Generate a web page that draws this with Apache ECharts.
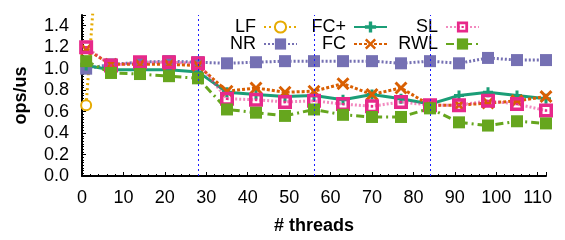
<!DOCTYPE html>
<html>
<head>
<meta charset="utf-8">
<script src="https://cdn.jsdelivr.net/npm/echarts@6/dist/echarts.min.js"></script>
<style>
  html, body { margin: 0; padding: 0; background: #fff; }
  #chart { width: 565px; height: 240px; }
</style>
</head>
<body>
<div id="chart"></div>
<script>
// thread counts on the x axis
const threads = [1, 7, 14, 21, 28, 35, 42, 49, 56, 63, 70, 77, 84, 91, 98, 105, 112]
// ops/us per variant (LF leaves the plot after the first point)
const lf = [0.66, 3.9, null, null, null, null, null, null, null, null, null, null, null, null, null, null, null]
const nr = [1.00, 1.04, 1.06, 1.07, 1.06, 1.05, 1.06, 1.07, 1.07, 1.07, 1.07, 1.05, 1.07, 1.05, 1.10, 1.08, 1.08]
const fcPlus = [1.03, 0.99, 0.99, 0.99, 0.97, 0.78, 0.76, 0.74, 0.75, 0.71, 0.76, 0.72, 0.67, 0.75, 0.78, 0.75, 0.72]
const fc = [1.18, 1.04, 1.04, 1.04, 1.03, 0.79, 0.82, 0.78, 0.79, 0.86, 0.76, 0.82, 0.66, 0.66, 0.68, 0.70, 0.74]
const sl = [1.20, 1.03, 1.06, 1.06, 1.05, 0.72, 0.71, 0.69, 0.70, 0.67, 0.65, 0.69, 0.66, 0.66, 0.70, 0.67, 0.61]
const rwl = [1.07, 0.96, 0.95, 0.93, 0.91, 0.62, 0.59, 0.56, 0.62, 0.57, 0.55, 0.55, 0.63, 0.50, 0.47, 0.51, 0.49]
// socket boundaries
const dividers = [28, 56, 84]

const FONT = "'Liberation Sans', Arial, sans-serif"
const pairs = (ys) => threads.map((t, i) => [t, ys[i]])

const PLUS = 'path://M3.5,0H6.5V3.5H10V6.5H6.5V10H3.5V6.5H0V3.5H3.5Z'
const CROSS = 'path://M0,1.6L1.6,0L5,3.4L8.4,0L10,1.6L6.6,5L10,8.4L8.4,10L5,6.6L1.6,10L0,8.4L3.4,5Z'
const BOXDOT = 'path://M0,0H14V14H0Z M3.5,3.5V10.5H10.5V3.5Z M5.8,5.8H8.2V8.2H5.8Z'

const chart = echarts.init(document.getElementById('chart'))

const mkLegend = (name, right, top) => ({
  data: [name],
  right: right,
  top: top,
  align: 'right',
  itemWidth: 33,
  itemHeight: 14,
  selectedMode: false,
  textStyle: { fontFamily: FONT, fontSize: 18, color: '#000', padding: [0, 3, 0, 0] }
})

chart.setOption({
  animation: false,
  grid: { left: 82, right: 19, top: 15, bottom: 61 },
  legend: [
    mkLegend('LF', 262, 13),
    mkLegend('FC+', 172, 13),
    mkLegend('SL', 80, 13),
    mkLegend('NR', 262, 30),
    mkLegend('FC', 172, 30),
    mkLegend('RWL', 80, 30)
  ],
  xAxis: {
    type: 'value',
    min: 0,
    max: 112,
    interval: 10,
    name: '# threads',
    nameLocation: 'middle',
    nameGap: 41,
    nameTextStyle: { fontFamily: FONT, fontSize: 18, fontWeight: 'bold', color: '#000' },
    axisLine: { lineStyle: { color: '#000', width: 2 } },
    axisTick: { inside: true, length: 4, lineStyle: { color: '#000' } },
    minorTick: { show: true, splitNumber: 5, length: 2, lineStyle: { color: '#000' } },
    axisLabel: { fontFamily: FONT, fontSize: 18, color: '#000', margin: 13, showMaxLabel: false },
    splitLine: { show: false }
  },
  yAxis: {
    type: 'value',
    min: 0,
    max: 1.5,
    interval: 0.2,
    name: 'ops/us',
    nameLocation: 'middle',
    nameGap: 52,
    nameTextStyle: { fontFamily: FONT, fontSize: 18, fontWeight: 'bold', color: '#000' },
    axisLine: { show: true, lineStyle: { color: '#000', width: 2 } },
    axisTick: { show: true, inside: true, length: 4, lineStyle: { color: '#000' } },
    minorTick: { show: true, splitNumber: 8, length: 2, lineStyle: { color: '#000' } },
    axisLabel: {
      fontFamily: FONT, fontSize: 18, color: '#000', margin: 13, showMaxLabel: false,
      formatter: v => v.toFixed(1)
    },
    splitLine: { show: false }
  },
  series: [
    {
      name: 'LF', type: 'line', data: pairs(lf), clip: true,
      symbol: 'emptyCircle', symbolSize: 10, color: '#e6ab02',
      itemStyle: { borderWidth: 3 },
      lineStyle: { width: 3, type: [2, 3] }
    },
    {
      name: 'NR', type: 'line', data: pairs(nr), clip: true,
      symbol: 'rect', symbolSize: 12, color: '#7570b3',
      lineStyle: { width: 3, type: [2, 2] },
      markLine: {
        silent: true,
        symbol: 'none',
        label: { show: false },
        lineStyle: { color: '#1a1aff', type: [2, 3], width: 1 },
        data: dividers.map(d => ({ xAxis: d }))
      }
    },
    {
      name: 'FC+', type: 'line', data: pairs(fcPlus), clip: true,
      symbol: PLUS, symbolSize: 10, color: '#1b9e77',
      lineStyle: { width: 3, type: 'solid' }
    },
    {
      name: 'FC', type: 'line', data: pairs(fc), clip: true,
      symbol: CROSS, symbolSize: 13, color: '#d95f02',
      lineStyle: { width: 3, type: [3, 2] }
    },
    {
      name: 'SL', type: 'line', data: pairs(sl), clip: true,
      symbol: BOXDOT, symbolSize: 14, color: '#e7298a',
      lineStyle: { width: 3, type: [2, 2], opacity: 0.55 }
    },
    {
      name: 'RWL', type: 'line', data: pairs(rwl), clip: true,
      symbol: 'rect', symbolSize: 12, color: '#66a61e',
      lineStyle: { width: 3, type: [8, 4, 2, 4] }
    }
  ]
})
</script>
</body>
</html>
